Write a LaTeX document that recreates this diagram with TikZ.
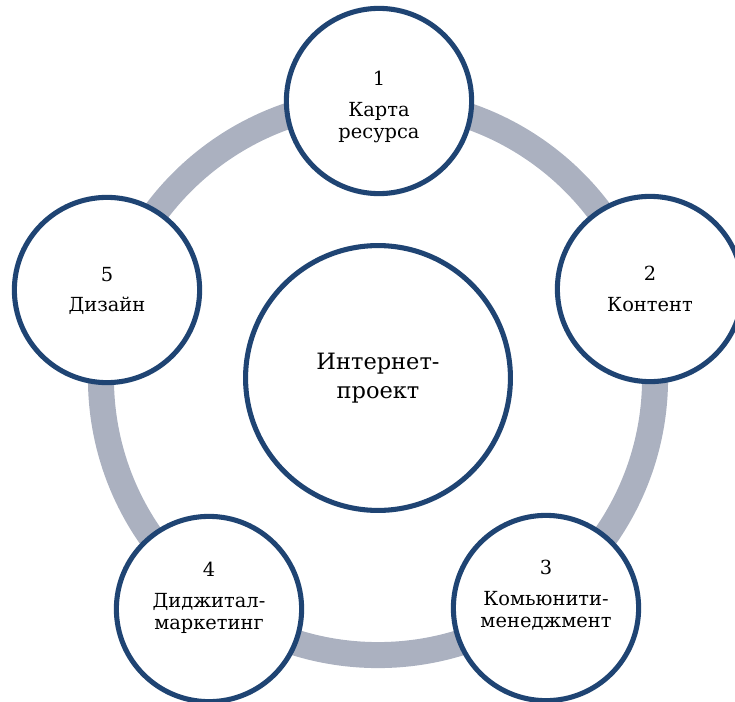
\documentclass[tikz,border=0pt]{standalone}
\usepackage{fontspec}
\setmainfont{DejaVu Serif}
\definecolor{kontur}{RGB}{31,68,115}
\definecolor{koltso}{RGB}{171,177,192}

\begin{document}
\begin{tikzpicture}[x=0.025cm, y=-0.025cm,
    krug/.style={circle, draw=kontur, line width=3.6pt, fill=white, minimum size=4.63cm, inner sep=0pt},
    yadro/.style={circle, draw=kontur, line width=3.6pt, fill=white, minimum size=6.62cm, align=center,
        font=\fontsize{16}{20.5}\selectfont},
    podpis/.style={align=center, font=\fontsize{13.8}{15.8}\selectfont, inner sep=0pt}]
        \useasboundingbox (0,0) rectangle (735,702);
        % Центр
        \coordinate (c) at (378,378);
        % Кольцо
        \draw[koltso, line width=0.65cm] (c) circle (6.925cm);
        \node[yadro] (proekt) at (c) {Интернет-\\проект};
        % Круги по кольцу
        \node[krug] (k1) at (379,101) {};
        \node[krug] (k2) at (650,289) {};
        \node[krug] (k3) at (546,608) {};
        \node[krug] (k4) at (209,609) {};
        \node[krug] (k5) at (107,290) {};
        % Подписи
        \node[podpis] (p1) at (379,107) {1\\[6pt]Карта\\ресурса};
        \node[podpis] (p2) at (650,289) {2\\[6pt]Контент};
        \node[podpis] (p3) at (546,595) {3\\[6pt]Комьюнити-\\менеджмент};
        \node[podpis] (p4) at (209,598) {4\\[6pt]Диджитал-\\маркетинг};
        \node[podpis] (p5) at (107,291) {5\\[6pt]Дизайн};
\end{tikzpicture}
\end{document}
